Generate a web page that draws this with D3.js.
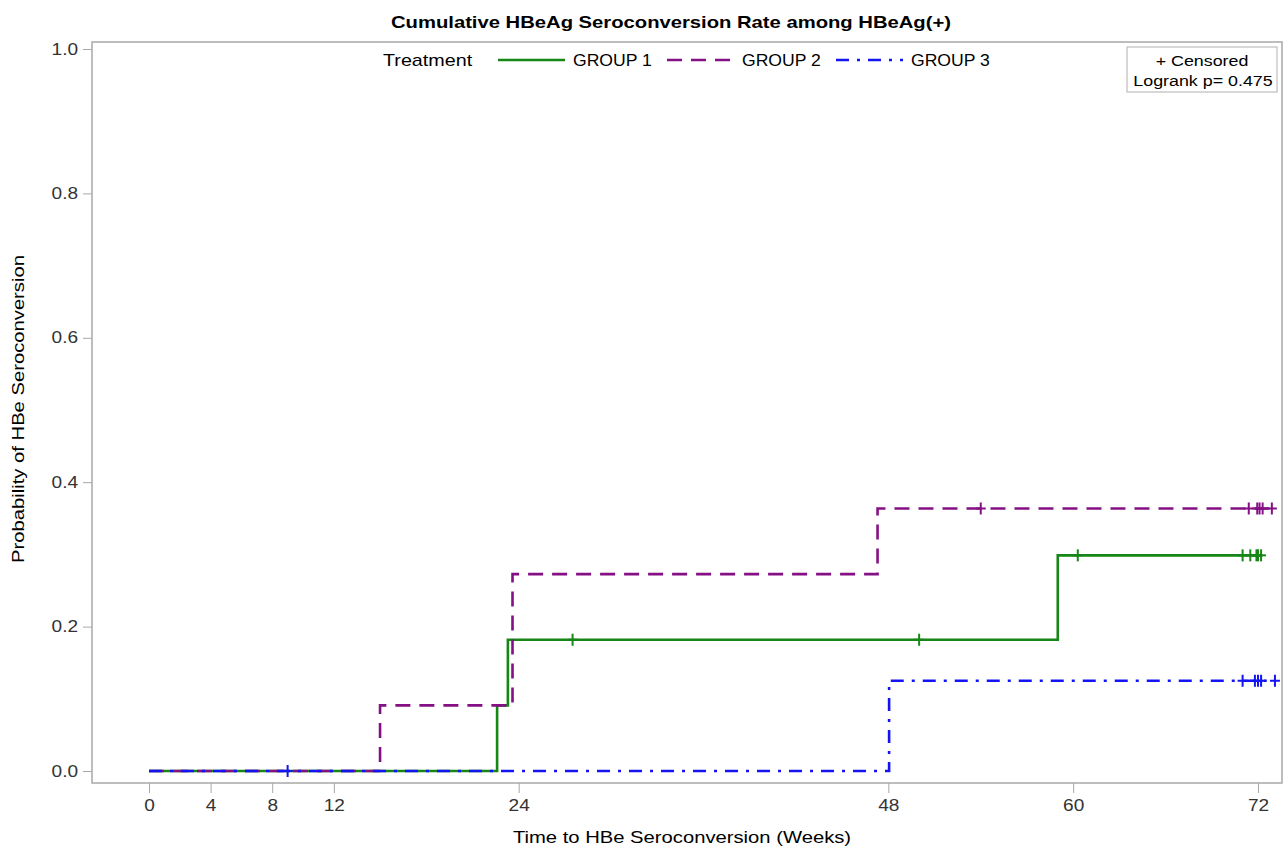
<!DOCTYPE html>
<html lang="en">
<head>
<meta charset="UTF-8">
<title>Cumulative HBeAg Seroconversion</title>
<style>
  body { margin: 0; background: #fff; }
  text { font-family: "Liberation Sans", Arial, sans-serif; fill: #000; }
  .axis text { font-size: 16px; fill: #333; }
  .axis line, .axis path { stroke: #a8a8a8; }
</style>
</head>
<body>
<svg width="1285" height="849"></svg>
<script src="https://d3js.org/d3.v7.min.js"></script>
<script>
// step data: event times (weeks) and cumulative probability
const groups = ["GROUP 1", "GROUP 2", "GROUP 3"];
const colors = ["#168616", "#851085", "#1414f2"];
const dashes = [null, "15,9", "13,8,3,8"];

const g1Time = [0, 22.6, 23.3, 59.0, 72.2];
const g1Prob = [0, 0.0909, 0.1818, 0.2987, 0.2987];
const g1Cens = [27.5, 50.0, 60.3, 71.0, 71.5, 71.9, 72.0, 72.2];

const g2Time = [0, 15.0, 23.6, 47.3, 72.9];
const g2Prob = [0, 0.0909, 0.2727, 0.3636, 0.3636];
const g2Cens = [54.0, 71.4, 71.95, 72.1, 72.3, 72.9];

const g3Time = [0, 48.05, 73.1];
const g3Prob = [0, 0.125, 0.125];
const g3Cens = [9.0, 71.0, 71.8, 72.0, 72.2, 73.1];

const xTicks = [0, 4, 8, 12, 24, 48, 60, 72];
const yTicks = [0, 0.2, 0.4, 0.6, 0.8, 1.0];

const series = [
  { name: groups[0], time: g1Time, prob: g1Prob, cens: g1Cens },
  { name: groups[1], time: g2Time, prob: g2Prob, cens: g2Cens },
  { name: groups[2], time: g3Time, prob: g3Prob, cens: g3Cens }
];

const svg = d3.select("svg");
const frame = { left: 92, top: 42, right: 1282, bottom: 783 };
const SX = 1.19; // the original's glyphs are a bit wider than Arial

const x = d3.scaleLinear().domain([0, 72]).range([149, 1258]);
const y = d3.scaleLinear().domain([0, 1]).range([771, 49]);

function label(px, py, str, size, anchor, opts = {}) {
  const sx = opts.sx || SX;
  const rot = opts.rotate ? " rotate(-90)" : "";
  return svg.append("text")
    .attr("transform", `translate(${px},${py})${rot} scale(${sx},1)`)
    .attr("text-anchor", anchor)
    .style("font-size", size + "px")
    .style("font-weight", opts.bold ? "bold" : null)
    .text(str);
}

// title
label(671, 28, "Cumulative HBeAg Seroconversion Rate among HBeAg(+)", 17, "middle", { bold: true });

// wall frame
svg.append("rect")
  .attr("x", frame.left).attr("y", frame.top)
  .attr("width", frame.right - frame.left).attr("height", frame.bottom - frame.top)
  .attr("fill", "none").attr("stroke", "#a8a8a8").attr("stroke-width", 1.5);

// axes
const xAxis = svg.append("g").attr("class", "axis")
  .attr("transform", `translate(0,${frame.bottom})`)
  .call(d3.axisBottom(x).tickValues(xTicks).tickSize(10).tickPadding(7).tickFormat(d3.format("d")));
xAxis.select(".domain").remove();
xAxis.selectAll(".tick text").attr("transform", `scale(${SX},1)`);

const yAxis = svg.append("g").attr("class", "axis")
  .attr("transform", `translate(${frame.left},0)`)
  .call(d3.axisLeft(y).tickValues(yTicks).tickSize(9).tickPadding(4).tickFormat(d3.format(".1f")));
yAxis.select(".domain").remove();
yAxis.selectAll(".tick text").attr("x", -14 / SX).attr("transform", `scale(${SX},1)`);

label(682, 843, "Time to HBe Seroconversion (Weeks)", 17, "middle");
label(24, 409, "Probability of HBe Seroconversion", 17, "middle", { rotate: true });

// curves
const line = d3.line().curve(d3.curveStepAfter).x(d => x(d[0])).y(d => y(d[1]));

series.forEach((s, i) => {
  const pts = s.time.map((t, j) => [t, s.prob[j]]);
  svg.append("path")
    .attr("d", line(pts))
    .attr("fill", "none")
    .attr("stroke", colors[i])
    .attr("stroke-width", 2.6)
    .attr("stroke-dasharray", dashes[i]);
});

// censor marks
series.forEach((s, i) => {
  const probAt = t => s.prob[d3.bisectRight(s.time, t) - 1];
  const g = svg.append("g").attr("stroke", colors[i]).attr("stroke-width", 2);
  s.cens.forEach(t => {
    const cx = x(t), cy = y(probAt(t));
    g.append("line").attr("x1", cx).attr("x2", cx).attr("y1", cy - 6).attr("y2", cy + 6);
    g.append("line").attr("x1", cx - 5).attr("x2", cx + 5).attr("y1", cy).attr("y2", cy);
  });
});

// legend
label(383, 66, "Treatment", 17, "start", { sx: 1.16 });
const legX = [498, 667, 836];
series.forEach((s, i) => {
  svg.append("line")
    .attr("x1", legX[i]).attr("x2", legX[i] + 67)
    .attr("y1", 60).attr("y2", 60)
    .attr("stroke", colors[i]).attr("stroke-width", 2.6)
    .attr("stroke-dasharray", dashes[i]);
  label(legX[i] + 75, 66, s.name, 16, "start", { sx: 1.1 });
});

// censored / logrank box
svg.append("rect")
  .attr("x", 1127).attr("y", 47).attr("width", 150).attr("height", 45)
  .attr("fill", "#fff").attr("stroke", "#b0b0b0");
label(1202, 66, "+ Censored", 15, "middle");
label(1203, 86, "Logrank p= 0.475", 15, "middle");
</script>
</body>
</html>
